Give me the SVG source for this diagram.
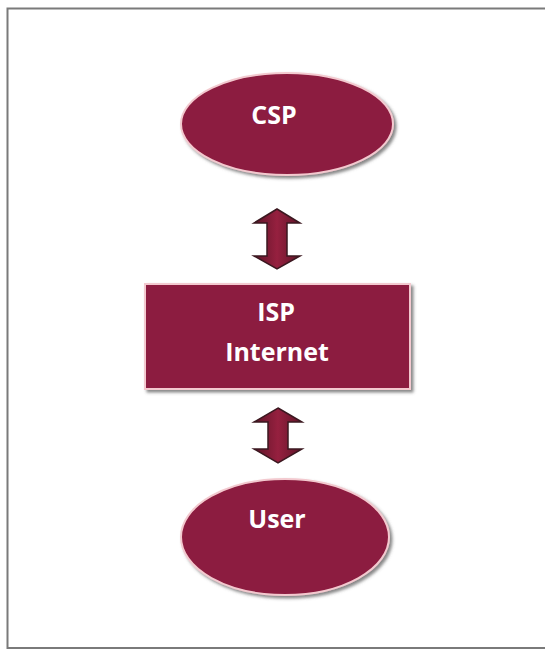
<svg xmlns="http://www.w3.org/2000/svg" width="545" height="652" viewBox="0 0 545 652">
  <style>
    .shape { fill: #8c1c3f; stroke: #f3c9cf; stroke-width: 2; filter: url(#shadow); }
    .label { font-family: "Open Sans", "Liberation Sans", sans-serif; font-weight: bold; font-size: 25px; fill: #ffffff; text-anchor: middle; }
    .arrow { fill: url(#arrowGrad); stroke: #3b1820; stroke-width: 1.5; stroke-linejoin: miter; }
  </style>
  <defs>
    <filter id="shadow" x="-10%" y="-10%" width="125%" height="130%">
      <feDropShadow dx="2.5" dy="2.5" stdDeviation="1.5" flood-color="#555555" flood-opacity="0.7"/>
    </filter>
    <linearGradient id="arrowGrad" x1="0" y1="0" x2="1" y2="0">
      <stop offset="0" stop-color="#5e1428"/>
      <stop offset="0.5" stop-color="#96203f"/>
      <stop offset="1" stop-color="#5e1428"/>
    </linearGradient>
  </defs>
  <rect x="0" y="0" width="545" height="652" fill="#ffffff"/>
  <rect id="frame" x="7.5" y="8.5" width="545" height="639.5" fill="none" stroke="#7a7a7a" stroke-width="2"/>

  <g id="connectors">
    <path class="arrow" d="M277 209 L300 223 L287 223 L287 256 L300 256 L277 269 L254 256 L267 256 L267 223 L254 223 Z"/>
    <path class="arrow" d="M278 408 L302 422 L288 422 L288 449 L302 449 L278 463 L254 449 L268 449 L268 422 L254 422 Z"/>
  </g>

  <g id="csp">
    <ellipse class="shape" cx="287" cy="124" rx="106" ry="51"/>
    <text class="label" x="274" y="124">CSP</text>
  </g>

  <g id="isp">
    <rect class="shape" x="145" y="284" width="265" height="105"/>
    <text class="label" x="276" y="321">ISP</text>
    <text class="label" x="277" y="361">Internet</text>
  </g>

  <g id="user">
    <ellipse class="shape" cx="285" cy="537" rx="104" ry="58"/>
    <text class="label" x="277" y="528">User</text>
  </g>
</svg>
